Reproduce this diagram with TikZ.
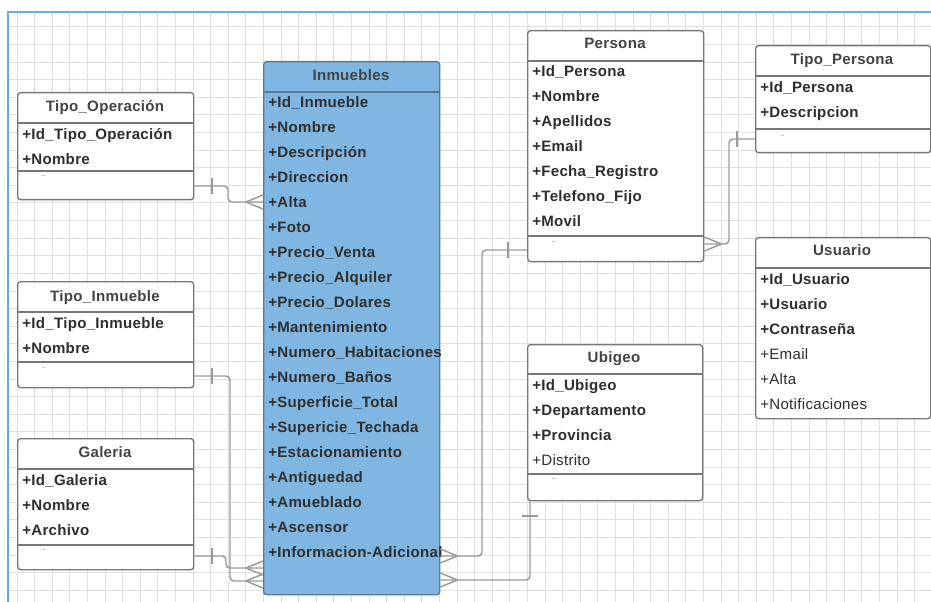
\documentclass[tikz,border=0pt]{standalone}
\usepackage{fontspec}
\setmainfont{Liberation Sans}[LetterSpace=2]
\definecolor{gridgray}{HTML}{E0E0E0}
\definecolor{framblue}{HTML}{6FA8DC}
\definecolor{boxline}{HTML}{777777}
\definecolor{inmfill}{HTML}{80B7E2}
\definecolor{inmline}{HTML}{5A7890}
\definecolor{txt}{HTML}{2E2E2E}
\definecolor{conngray}{HTML}{9A9A9A}
\begin{document}
\begin{tikzpicture}[x=0.75pt,y=-0.75pt,
  entity/.style 2 args={draw=boxline,line width=1pt,rounded corners=2.2pt,fill=white,
    anchor=north west,inner sep=0,minimum width=#1*0.75pt,minimum height=#2*0.75pt},
  sepline/.style={draw=boxline,line width=1pt},
  ttl/.style={inner sep=0,text height=8.2pt,text depth=0pt,font=\fontsize{11.3pt}{12pt}\selectfont\bfseries,text=txt!90},
  row/.style={inner sep=0,anchor=west,text height=8.2pt,text depth=0pt,font=\fontsize{11.3pt}{12pt}\selectfont\bfseries,text=txt},
  rowreg/.style={row,font=\fontsize{11.3pt}{12pt}\selectfont},
  conn/.style={draw=conngray,line width=1.1pt,rounded corners=3pt},
  blank/.style={draw=gray!45,line width=0.6pt},
  crowfoot/.pic={\draw[draw=conngray,line width=1.1pt] (-17,0) -- (0,-7) (-17,0) -- (0,7);},
  onebar/.pic={\draw[draw=conngray,line width=1.1pt] (0,-8) -- (0,8);}
]
\useasboundingbox (0,0) rectangle (931,602);
\fill[white] (0,0) rectangle (931,602);

% background grid and frame
\foreach \i in {0,...,52}
  \draw[gridgray,line width=0.75pt] ({17+17.6*\i},12) -- ({17+17.6*\i},602);
\foreach \j in {0,...,32}
  \draw[gridgray,line width=0.75pt] (8,{27+17.6*\j}) -- (931,{27+17.6*\j});
\draw[framblue,line width=1.3pt] (8,602) -- (8,12) -- (931,12);

% ---------- Inmuebles ----------
\node[entity={176}{533},fill=inmfill,draw=inmline] (inm) at (263,61) {};
\draw[draw=inmline,line width=1pt] (inm.west |- 0,92) -- (inm.east |- 0,92);
\node[ttl] (inm-t) at (351,75) {Inmuebles};
\foreach \t [count=\i] in {+Id\_Inmueble,+Nombre,+Descripción,+Direccion,+Alta,+Foto,
  +Precio\_Venta,+Precio\_Alquiler,+Precio\_Dolares,+Mantenimiento,+Numero\_Habitaciones,
  +Numero\_Baños,+Superficie\_Total,+Supericie\_Techada,+Estacionamiento,+Antiguedad,
  +Amueblado,+Ascensor,+Informacion-Adicional}
  \node[row] (inm-r\i) at (268,{77+25*\i}) {\t};

% ---------- Tipo_Operación ----------
\node[entity={176}{107}] (tipoop) at (17,92) {};
\node[ttl] (tipoop-t) at (105,106) {Tipo\_Operación};
\draw[sepline] (tipoop.west |- 0,123) -- (tipoop.east |- 0,123);
\draw[sepline] (tipoop.west |- 0,171) -- (tipoop.east |- 0,171);
\node[row] (tipoop-r1) at (22,134) {+Id\_Tipo\_Operación};
\node[row] (tipoop-r2) at (22,159) {+Nombre};
\draw[blank] (42,175) -- (45,175);

% ---------- Tipo_Inmueble ----------
\node[entity={176}{106}] (tipoin) at (17,281) {};
\node[ttl] (tipoin-t) at (105,296) {Tipo\_Inmueble};
\draw[sepline] (tipoin.west |- 0,312) -- (tipoin.east |- 0,312);
\draw[sepline] (tipoin.west |- 0,362) -- (tipoin.east |- 0,362);
\node[row] (tipoin-r1) at (22,323) {+Id\_Tipo\_Inmueble};
\node[row] (tipoin-r2) at (22,348) {+Nombre};
\draw[blank] (42,367) -- (45,367);

% ---------- Galeria ----------
\node[entity={176}{131}] (gal) at (17,438) {};
\node[ttl] (gal-t) at (105,452) {Galeria};
\draw[sepline] (gal.west |- 0,469) -- (gal.east |- 0,469);
\draw[sepline] (gal.west |- 0,545) -- (gal.east |- 0,545);
\node[row] (gal-r1) at (22,480) {+Id\_Galeria};
\node[row] (gal-r2) at (22,505) {+Nombre};
\node[row] (gal-r3) at (22,530) {+Archivo};
\draw[blank] (42,549) -- (45,549);

% ---------- Persona ----------
\node[entity={176}{231}] (per) at (527,30) {};
\node[ttl] (per-t) at (615,43) {Persona};
\draw[sepline] (per.west |- 0,61) -- (per.east |- 0,61);
\draw[sepline] (per.west |- 0,236) -- (per.east |- 0,236);
\foreach \t [count=\i] in {+Id\_Persona,+Nombre,+Apellidos,+Email,+Fecha\_Registro,+Telefono\_Fijo,+Movil}
  \node[row] (per-r\i) at (532,{46+25*\i}) {\t};
\draw[blank] (552,241) -- (555,241);

% ---------- Tipo_Persona ----------
\node[entity={175}{107}] (tper) at (755,45) {};
\node[ttl] (tper-t) at (842,59) {Tipo\_Persona};
\draw[sepline] (tper.west |- 0,76) -- (tper.east |- 0,76);
\draw[sepline] (tper.west |- 0,129) -- (tper.east |- 0,129);
\node[row] (tper-r1) at (760,87) {+Id\_Persona};
\node[row] (tper-r2) at (760,112) {+Descripcion};
\draw[blank] (781,135) -- (784,135);

% ---------- Usuario ----------
\node[entity={175}{181}] (usu) at (755,237) {};
\node[ttl] (usu-t) at (842,250) {Usuario};
\draw[sepline] (usu.west |- 0,268) -- (usu.east |- 0,268);
\node[row] (usu-r1) at (760,279) {+Id\_Usuario};
\node[row] (usu-r2) at (760,304) {+Usuario};
\node[row] (usu-r3) at (760,329) {+Contraseña};
\node[rowreg] (usu-r4) at (760,354) {+Email};
\node[rowreg] (usu-r5) at (760,379) {+Alta};
\node[rowreg] (usu-r6) at (760,404) {+Notificaciones};

% ---------- Ubigeo ----------
\node[entity={175}{156}] (ubi) at (527,344) {};
\node[ttl] (ubi-t) at (614,357) {Ubigeo};
\draw[sepline] (ubi.west |- 0,374) -- (ubi.east |- 0,374);
\draw[sepline] (ubi.west |- 0,474) -- (ubi.east |- 0,474);
\node[row] (ubi-r1) at (532,385) {+Id\_Ubigeo};
\node[row] (ubi-r2) at (532,410) {+Departamento};
\node[row] (ubi-r3) at (532,435) {+Provincia};
\node[rowreg] (ubi-r4) at (532,460) {+Distrito};
\draw[blank] (552,478) -- (555,478);

% ---------- relationships ----------
% Tipo_Operación 1 -- * Inmuebles
\draw[conn] (tipoop.east |- 0,186) -- (228,186) -- (228,202) -- (inm.west |- 0,202);
\pic at (212,186) {onebar};
\pic at (inm.west |- 0,202) {crowfoot};
% Tipo_Inmueble 1 -- * Inmuebles
\draw[conn] (tipoin.east |- 0,376) -- (230,376) -- (230,581) -- (inm.west |- 0,581);
\pic at (212,376) {onebar};
\pic at (inm.west |- 0,581) {crowfoot};
% Galeria 1 -- * Inmuebles
\draw[conn] (gal.east |- 0,556) -- (226,556) -- (226,568) -- (inm.west |- 0,568);
\pic at (212,556) {onebar};
\pic at (inm.west |- 0,568) {crowfoot};
% Persona 1 -- * Inmuebles
\draw[conn] (per.west |- 0,250) -- (482,250) -- (482,556) -- (inm.east |- 0,556);
\pic at (508,250) {onebar};
\pic[xscale=-1] at (inm.east |- 0,556) {crowfoot};
% Ubigeo 1 -- * Inmuebles
\draw[conn] (ubi.south -| 530,0) -- (530,580) -- (inm.east |- 0,580);
\pic[rotate=90] at (530,516) {onebar};
\pic[xscale=-1] at (inm.east |- 0,580) {crowfoot};
% Tipo_Persona 1 -- * Persona
\draw[conn] (tper.west |- 0,139) -- (729,139) -- (729,244) -- (per.east |- 0,244);
\pic at (737,139) {onebar};
\pic[xscale=-1] at (per.east |- 0,244) {crowfoot};
\end{tikzpicture}
\end{document}
